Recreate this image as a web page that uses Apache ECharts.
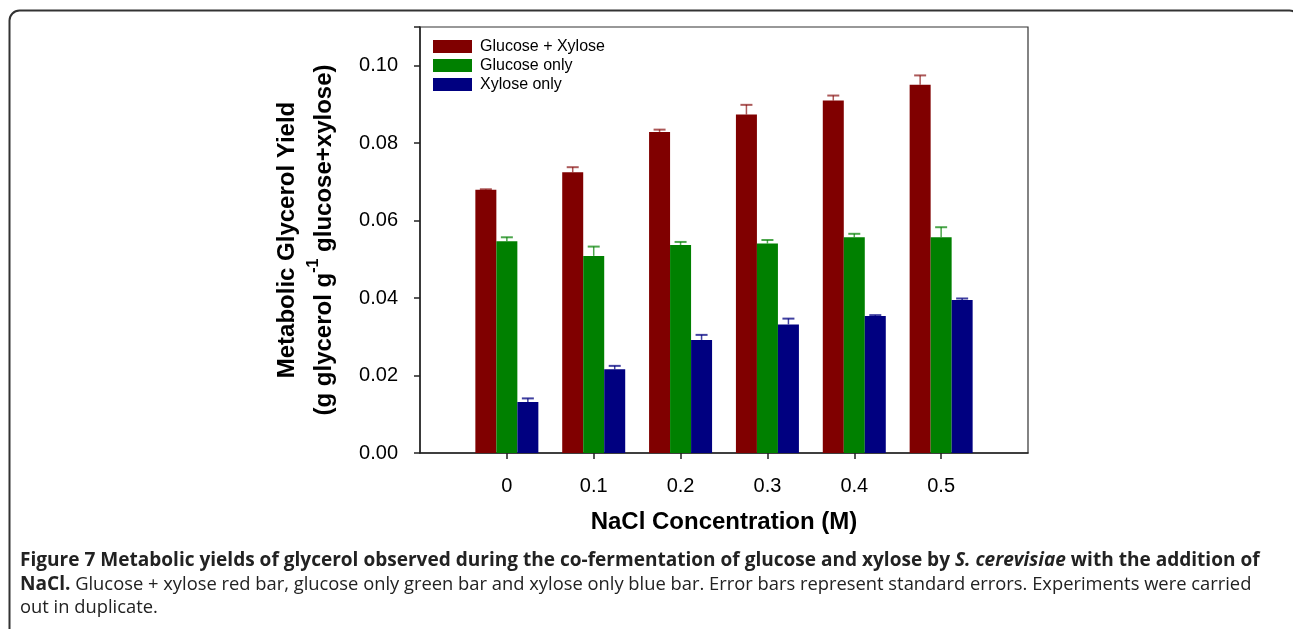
<!DOCTYPE html>
<html>
<head>
<meta charset="utf-8">
<script src="https://cdn.jsdelivr.net/npm/echarts@6/dist/echarts.min.js"></script>
<style>
html,body{margin:0;padding:0;background:#fff;}
#chart{width:1293px;height:629px;}
</style>
</head>
<body>
<div id="chart"></div>
<script>
// Categories (NaCl concentration, M)
const categories = ['0', '0.1', '0.2', '0.3', '0.4', '0.5'];
// Series names
const seriesNames = ['Glucose + Xylose', 'Glucose only', 'Xylose only'];
// Mean yields
const glucoseXylose = [0.0680, 0.0725, 0.0829, 0.0874, 0.0910, 0.0951];
const glucoseOnly   = [0.0547, 0.0509, 0.0537, 0.0541, 0.0557, 0.0557];
const xyloseOnly    = [0.0132, 0.0216, 0.0292, 0.0332, 0.0354, 0.0395];
// Standard errors
const glucoseXyloseErr = [0.0001, 0.0013, 0.0006, 0.0025, 0.0013, 0.0024];
const glucoseOnlyErr   = [0.0010, 0.0024, 0.0008, 0.0009, 0.0009, 0.0026];
const xyloseOnlyErr    = [0.0009, 0.0009, 0.0013, 0.0015, 0.0002, 0.0004];
// Y axis ticks
const yTicks = [0.00, 0.02, 0.04, 0.06, 0.08, 0.10];

// Caption text
const cap1a = 'Figure 7 Metabolic yields of glycerol observed during the co-fermentation of glucose and xylose by ';
const cap1b = 'S. cerevisiae';
const cap1c = ' with the addition of';
const cap2a = 'NaCl.';
const cap2b = ' Glucose + xylose red bar, glucose only green bar and xylose only blue bar. Error bars represent standard errors. Experiments were carried';
const cap3 = 'out in duplicate.';

const colors = ['#800000', '#008000', '#000080'];
const errColors = ['rgba(128,0,0,0.65)', 'rgba(0,128,0,0.7)', 'rgba(0,0,128,0.75)'];
const BAR_W = 21;

// padded category axis (empty slot on each side)
const axisCats = [''].concat(categories, ['']);
const means = [glucoseXylose, glucoseOnly, xyloseOnly];
const errs = [glucoseXyloseErr, glucoseOnlyErr, xyloseOnlyErr];

// fit caption font sizes to the reference line widths
const capFamily = '"Open Sans"';
function measure(parts, size) {
  const c = document.createElement('canvas').getContext('2d');
  let w = 0;
  parts.forEach(p => { c.font = p[1] + ' ' + (p[2] || size) + 'px ' + capFamily; w += c.measureText(p[0]).width; });
  return w;
}
let boldSize = 17.6, regSize = 17.2;
try {
  const w1 = measure([[cap1a, 'bold'], [cap1b, 'italic bold'], [cap1c, 'bold']], 100);
  const b = 1240 / w1 * 100;
  if (isFinite(b) && b > 12 && b < 24) boldSize = b;
  const wb = measure([[cap2a, 'bold', boldSize]], 100);
  const wr = measure([[cap2b, 'normal']], 100);
  const r = (1232 - wb) / wr * 100;
  if (isFinite(r) && r > 12 && r < 24) regSize = r;
} catch (e) {}

const chart = echarts.init(document.getElementById('chart'));

const barSeries = means.map((arr, k) => ({
  type: 'bar',
  name: seriesNames[k],
  data: [null].concat(arr, [null]),
  barWidth: BAR_W,
  barGap: '0%',
  itemStyle: { color: colors[k] },
  z: 2
}));

const errSeries = means.map((arr, k) => ({
  type: 'custom',
  name: seriesNames[k] + ' err',
  data: arr.map((v, i) => [i + 1, v + errs[k][i], v]),
  encode: { x: 0, y: 1 },
  z: 3,
  silent: true,
  renderItem: function (params, api) {
    const ci = api.value(0);
    const top = api.coord([ci, api.value(1)]);
    const base = api.coord([ci, api.value(2)]);
    const x = top[0] + (k - 1) * BAR_W;
    const half = 6;
    return {
      type: 'group',
      children: [
        { type: 'line', shape: { x1: x, y1: base[1], x2: x, y2: top[1] },
          style: { stroke: errColors[k], lineWidth: 1.5 } },
        { type: 'line', shape: { x1: x - half, y1: top[1], x2: x + half, y2: top[1] },
          style: { stroke: errColors[k], lineWidth: 2 } }
      ]
    };
  }
}));

const capFont = capFamily + ', sans-serif';

chart.setOption({
  animation: false,
  backgroundColor: '#fff',
  textStyle: { fontFamily: 'Liberation Sans, Arial, sans-serif' },
  grid: {
    left: 420, right: 265, top: 27, bottom: 176,
    show: true, borderColor: '#333', borderWidth: 1.2, backgroundColor: 'transparent'
  },
  legend: {
    data: seriesNames,
    orient: 'vertical',
    left: 433, top: 38.5, padding: 0,
    itemWidth: 39, itemHeight: 13, itemGap: 3,
    icon: 'rect',
    textStyle: { fontSize: 16, color: '#000', fontFamily: 'Liberation Sans, Arial, sans-serif', padding: [0, 0, 0, 3] }
  },
  xAxis: {
    type: 'category',
    data: axisCats,
    boundaryGap: false,
    name: 'NaCl Concentration (M)',
    nameLocation: 'middle',
    nameGap: 57,
    nameTextStyle: { fontSize: 24, fontWeight: 'bold', color: '#000' },
    axisLine: { lineStyle: { color: '#222', width: 1.5 } },
    axisTick: { length: 6, lineStyle: { color: '#222', width: 1.5 },
      interval: function (i, v) { return v !== ''; } },
    axisLabel: { interval: 0, fontSize: 20, color: '#000', margin: 23 },
    splitLine: { show: false }
  },
  yAxis: {
    type: 'value',
    min: 0, max: 0.11, interval: 0.02,
    name: '{a|Metabolic Glycerol Yield}\n{b|(g glycerol g}{s|-1}{b| glucose+xylose)}',
    nameLocation: 'middle',
    nameRotate: 90,
    nameGap: 77,
    nameTextStyle: {
      color: '#000',
      rich: {
        a: { fontSize: 24, fontWeight: 'bold', lineHeight: 37, color: '#000', fontFamily: 'Liberation Sans, Arial, sans-serif' },
        b: { fontSize: 24, fontWeight: 'bold', lineHeight: 37, color: '#000', fontFamily: 'Liberation Sans, Arial, sans-serif' },
        s: { fontSize: 16, fontWeight: 'bold', lineHeight: 16, verticalAlign: 'top', color: '#000', fontFamily: 'Liberation Sans, Arial, sans-serif' }
      }
    },
    axisLine: { show: true, lineStyle: { color: '#222', width: 1.5 } },
    axisTick: { show: true, length: 6, lineStyle: { color: '#222', width: 1.5 } },
    axisLabel: { fontSize: 20, color: '#000', margin: 22,
      formatter: function (v) { return yTicks.some(t => Math.abs(t - v) < 1e-9) ? v.toFixed(2) : ''; } },
    splitLine: { show: false }
  },
  graphic: [
    { type: 'rect', silent: true, z: -1,
      shape: { x: 9.5, y: 10.5, width: 1290, height: 700, r: [10, 10, 0, 0] },
      style: { fill: 'none', stroke: '#333', lineWidth: 2 } },
    { type: 'text', left: 20, top: 551, silent: true,
      style: {
        text: '{b|' + cap1a + '}{bi|' + cap1b + '}{b|' + cap1c + '}',
        rich: {
          b: { fontFamily: capFont, fontSize: boldSize, fontWeight: 'bold', fill: '#222' },
          bi: { fontFamily: capFont, fontSize: boldSize, fontWeight: 'bold', fontStyle: 'italic', fill: '#222' }
        }
      } },
    { type: 'text', left: 20, top: 575, silent: true,
      style: {
        text: '{b|' + cap2a + '}{r|' + cap2b + '}',
        rich: {
          b: { fontFamily: capFont, fontSize: boldSize, fontWeight: 'bold', fill: '#222' },
          r: { fontFamily: capFont, fontSize: regSize, fill: '#222' }
        }
      } },
    { type: 'text', left: 20, top: 599, silent: true,
      style: {
        text: cap3,
        font: regSize + 'px ' + capFont, fill: '#222'
      } }
  ],
  series: barSeries.concat(errSeries)
});
</script>
</body>
</html>
